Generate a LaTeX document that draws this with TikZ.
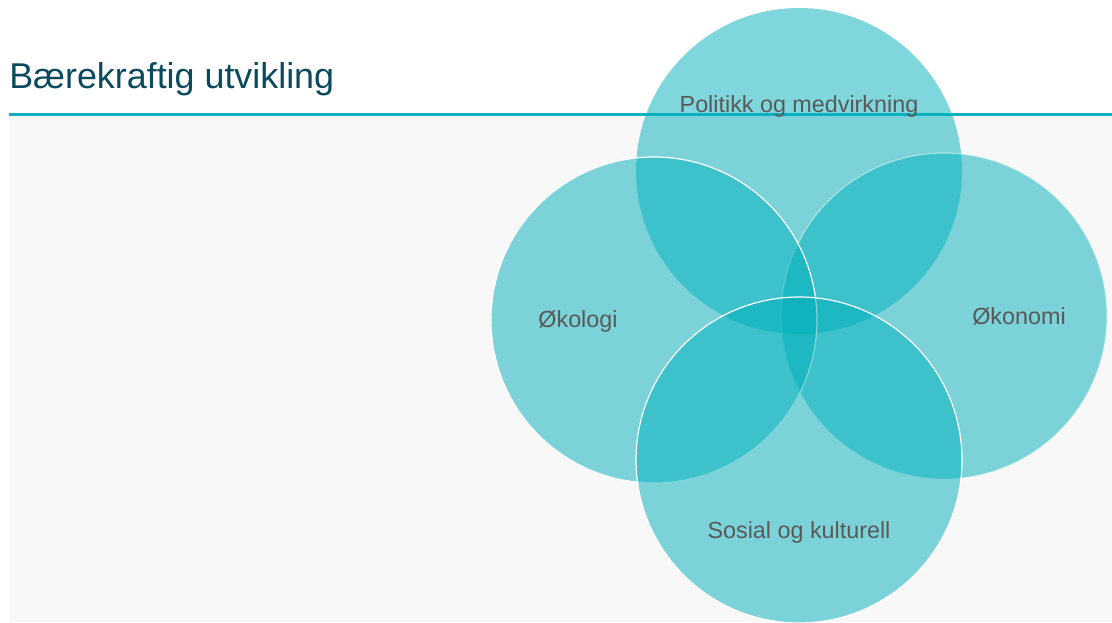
\documentclass[tikz,border=0pt]{standalone}
\usepackage{fontspec}
\setmainfont{Liberation Sans}
\usetikzlibrary{positioning,calc}
\definecolor{SusTeal}{HTML}{00B0BC}
\definecolor{SusLine}{HTML}{10B2C0}
\definecolor{SusTitle}{HTML}{0B4A5C}
\definecolor{SusText}{HTML}{595959}
\definecolor{SusPanel}{HTML}{F8F8F8}
\begin{document}
\begin{tikzpicture}[
    x=0.75pt,y=-0.75pt,
    ring/.style={circle,inner sep=0pt,minimum size=244.5pt,fill=SusTeal,fill opacity=0.5},
    rim/.style={ring,draw=white,line width=0.9pt},
    lbl/.style={anchor=base,text=SusText,font=\fontsize{17.5}{20}\selectfont,inner sep=0pt}
  ]
    \useasboundingbox (0,0) rectangle (1112,622);
    \fill[white] (0,0) rectangle (1112,622);
    \fill[SusPanel] (10,116) rectangle (1112,622);
    \coordinate (rulestart) at (9,114.5);
    \coordinate (ruleend) at (1112,114.5);
    \draw[SusLine,line width=2.2pt] (rulestart) -- (ruleend);
    \node[anchor=base west,inner sep=0pt,text=SusTitle,font=\fontsize{26.9}{30}\selectfont] (title) at (9,88) {Bærekraftig utvikling};
    % four overlapping circles
    \node[ring] (pol) at (799,171) {};
    \node[rim,draw opacity=0.45] (oko) at (944,316) {};
    \node[rim] (eco) at (654,320) {};
    \node[rim] (sos) at (799,460) {};
    % labels
    \node[lbl] (pollbl) at (799,112) {Politikk og medvirkning};
    \node[lbl] (ecolbl) at (578,327) {Økologi};
    \node[lbl] (okolbl) at (1019,324) {Økonomi};
    \node[lbl] (soslbl) at (799,538) {Sosial og kulturell};
  \end{tikzpicture}
\end{document}
